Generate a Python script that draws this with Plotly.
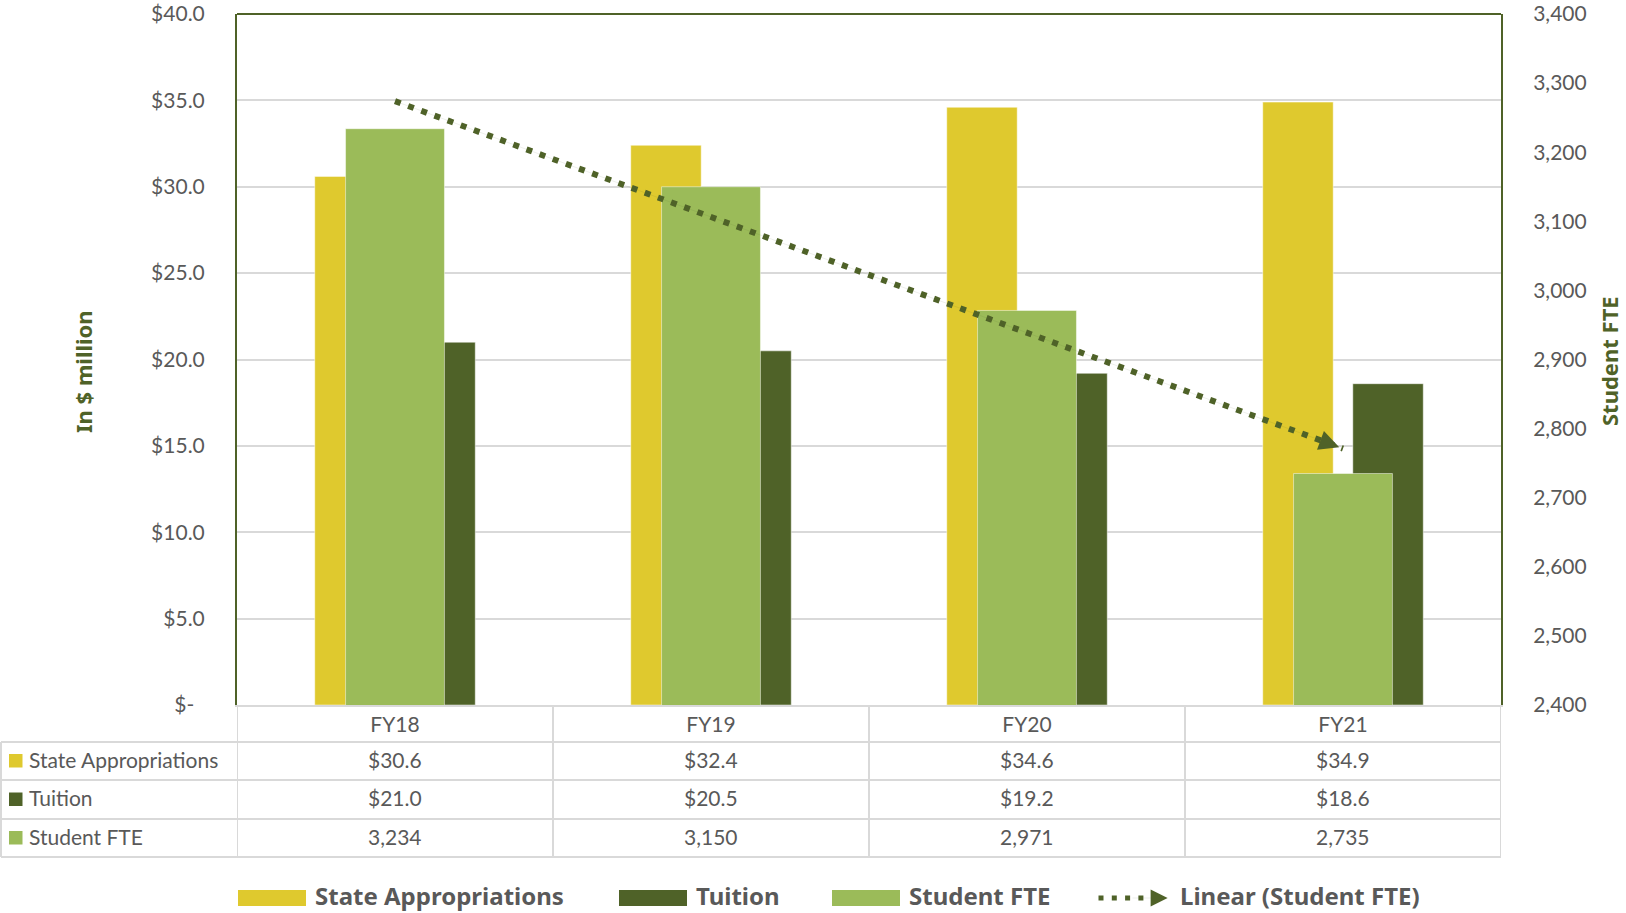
import numpy as np
import plotly.graph_objects as go

# ---------------- data ----------------
categories = ["FY18", "FY19", "FY20", "FY21"]
state_appropriations = [30.6, 32.4, 34.6, 34.9]   # $ million
tuition = [21.0, 20.5, 19.2, 18.6]                # $ million
student_fte = [3234, 3150, 2971, 2735]            # students

series_names = ["State Appropriations", "Tuition", "Student FTE"]
trend_name = "Linear (Student FTE)"

left_tickvals = [0, 5, 10, 15, 20, 25, 30, 35, 40]
left_ticktext = ["$-\u2002", "$5.0", "$10.0", "$15.0", "$20.0",
                 "$25.0", "$30.0", "$35.0", "$40.0"]
right_tickvals = [2400, 2500, 2600, 2700, 2800, 2900, 3000, 3100, 3200, 3300, 3400]
right_ticktext = ["2,400", "2,500", "2,600", "2,700", "2,800", "2,900",
                  "3,000", "3,100", "3,200", "3,300", "3,400"]

# ---------------- style ----------------
YELLOW = "#DFC92E"
DARK = "#4F6228"
LIGHT = "#9BBB59"
TXT = "#595959"
GRID = "#D9D9D9"
FONT = "Lato"
BOLD = "Noto Sans"

W, H = 1626, 913
L, R, T, B = 237, 1501, 14, 705          # plot area in pixels


def px(xp):
    return (xp - L) / (R - L)


def py(yp):
    return (B - yp) / (B - T)


# linear trend of Student FTE (Excel "Linear" trendline)
xs = np.arange(len(categories))
slope, intercept = np.polyfit(xs, student_fte, 1)
trend_y = [intercept + slope * xs[0], intercept + slope * xs[-1]]
trend_x = [categories[0], categories[-1]]

fig = go.Figure()
edge = dict(width=0.8, color="rgba(255,255,255,0.6)")
fig.add_bar(x=categories, y=state_appropriations, name=series_names[0],
            width=0.223, offset=-0.254, marker=dict(color=YELLOW, line=edge))
fig.add_bar(x=categories, y=tuition, name=series_names[1],
            width=0.223, offset=0.031, marker=dict(color=DARK, line=edge))
fig.add_bar(x=categories, y=student_fte, name=series_names[2], yaxis="y2",
            width=0.313, offset=-0.1565, marker=dict(color=LIGHT, line=edge))
fig.add_scatter(x=trend_x, y=trend_y, name=trend_name, yaxis="y2", mode="lines",
                line=dict(color=DARK, width=6, dash="6px,8px"))

annotations = []
shapes = []

# arrow head at end of trendline
annotations.append(dict(x=trend_x[1], y=trend_y[1], xref="x", yref="y2",
                        ax=trend_x[0], ay=trend_y[0], axref="x", ayref="y2",
                        text="", showarrow=True, arrowhead=2, arrowsize=40,
                        arrowwidth=0.1, arrowcolor=DARK, standoff=4))

# plot frame top
shapes.append(dict(type="line", xref="paper", yref="paper", x0=0, x1=1, y0=1, y1=1,
                   line=dict(color=DARK, width=2)))

# ---------------- data table ----------------
row_bounds = [705, 742, 780, 819, 857]
row_centers = [(row_bounds[i] + row_bounds[i + 1]) / 2 - 1.5 for i in range(1, 4)]
for yb in row_bounds[1:]:
    shapes.append(dict(type="line", xref="paper", yref="paper", x0=px(1), x1=1,
                       y0=py(yb), y1=py(yb), line=dict(color=GRID, width=2)))
for k in range(len(categories) + 1):
    shapes.append(dict(type="line", xref="x", yref="paper", x0=k - 0.5, x1=k - 0.5,
                       y0=py(row_bounds[0]), y1=py(row_bounds[-1]),
                       line=dict(color=GRID, width=2)))
shapes.append(dict(type="line", xref="paper", yref="paper", x0=px(1), x1=px(1),
                   y0=py(row_bounds[1]), y1=py(row_bounds[-1]),
                   line=dict(color=GRID, width=2)))

row_values = [
    [f"${v:.1f}" for v in state_appropriations],
    [f"${v:.1f}" for v in tuition],
    [f"{v:,}" for v in student_fte],
]
row_colors = [YELLOW, DARK, LIGHT]
for r, name in enumerate(series_names):
    yc = row_centers[r]
    shapes.append(dict(type="rect", xref="paper", yref="paper", x0=px(9), x1=px(22.5),
                       y0=py(yc + 8), y1=py(yc - 5.5), fillcolor=row_colors[r],
                       line=dict(width=0)))
    annotations.append(dict(x=px(27), y=py(yc), xref="paper", yref="paper",
                            text=name, showarrow=False, xanchor="left", yanchor="middle",
                            font=dict(family=FONT, size=21, color=TXT)))
    for c, cat in enumerate(categories):
        annotations.append(dict(x=cat, y=py(yc), xref="x", yref="paper",
                                text=row_values[r][c], showarrow=False,
                                xanchor="center", yanchor="middle",
                                font=dict(family=FONT, size=21, color=TXT)))

# ---------------- legend ----------------
leg_y = 898
leg_text_y = 895
sw_x = [238, 619, 832]
tx_x = [313, 694, 907]
for i, name in enumerate(series_names):
    shapes.append(dict(type="rect", xref="paper", yref="paper", x0=px(sw_x[i]),
                       x1=px(sw_x[i] + 68), y0=py(leg_y + 8), y1=py(leg_y - 8),
                       fillcolor=row_colors[i], line=dict(width=0)))
    annotations.append(dict(x=px(tx_x[i]), y=py(leg_text_y), xref="paper", yref="paper",
                            text=f"<b>{name}</b>", showarrow=False, xanchor="left",
                            yanchor="middle",
                            font=dict(family=BOLD, size=24, color=TXT)))
shapes.append(dict(type="line", xref="paper", yref="paper", x0=px(1098.5), x1=px(1152),
                   y0=py(leg_y), y1=py(leg_y), line=dict(color=DARK, width=5, dash="5px,8.3px")))
annotations.append(dict(x=px(1171), y=py(leg_y), xref="paper", yref="paper",
                        ax=-40, ay=0, text="", showarrow=True, arrowhead=2, arrowsize=34,
                        arrowwidth=0.1, arrowcolor=DARK, standoff=3.4))
annotations.append(dict(x=px(1178), y=py(leg_text_y), xref="paper", yref="paper",
                        text=f"<b>{trend_name}</b>", showarrow=False, xanchor="left",
                        yanchor="middle",
                        font=dict(family=BOLD, size=24, color=TXT)))

# ---------------- axis titles ----------------
annotations.append(dict(x=px(83), y=py(372), xref="paper", yref="paper",
                        text="<b>In $ million</b>", textangle=-90, showarrow=False,
                        xanchor="center", yanchor="middle",
                        font=dict(family=BOLD, size=22, color=DARK)))
annotations.append(dict(x=px(1609), y=py(361), xref="paper", yref="paper",
                        text="<b>Student FTE</b>", textangle=-90, showarrow=False,
                        xanchor="center", yanchor="middle",
                        font=dict(family=BOLD, size=22, color=DARK)))

fig.update_layout(
    template="none",
    width=W, height=H, autosize=False,
    margin=dict(l=L, r=W - R, t=T, b=H - B, pad=0),
    paper_bgcolor="white", plot_bgcolor="white",
    barmode="overlay",
    showlegend=False,
    font=dict(family=FONT, size=21, color=TXT),
    xaxis=dict(type="category", categoryorder="array", categoryarray=categories,
               range=[-0.5, len(categories) - 0.5], showgrid=False, zeroline=False,
               showline=True, linecolor=GRID, linewidth=2, ticks="",
               ticklabelstandoff=0, automargin=False,
               tickfont=dict(family=FONT, size=21, color=TXT)),
    yaxis=dict(range=[0, 40], tickmode="array", tickvals=left_tickvals, ticktext=left_ticktext,
               showgrid=True, gridcolor=GRID, gridwidth=2, zeroline=False,
               showline=True, linecolor=DARK, linewidth=2, ticks="",
               ticklabelstandoff=26, automargin=False,
               tickfont=dict(family=FONT, size=21, color=TXT)),
    yaxis2=dict(range=[2400, 3400], overlaying="y", side="right", tickmode="array",
                tickvals=right_tickvals, ticktext=right_ticktext, showgrid=False,
                zeroline=False, showline=True, linecolor=DARK, linewidth=2, ticks="",
                ticklabelstandoff=26, automargin=False,
                tickfont=dict(family=FONT, size=21, color=TXT)),
    annotations=annotations,
    shapes=shapes,
)

fig.write_html("out.html", config={"displayModeBar": False},
               post_script="document.body.style.margin='0';")
